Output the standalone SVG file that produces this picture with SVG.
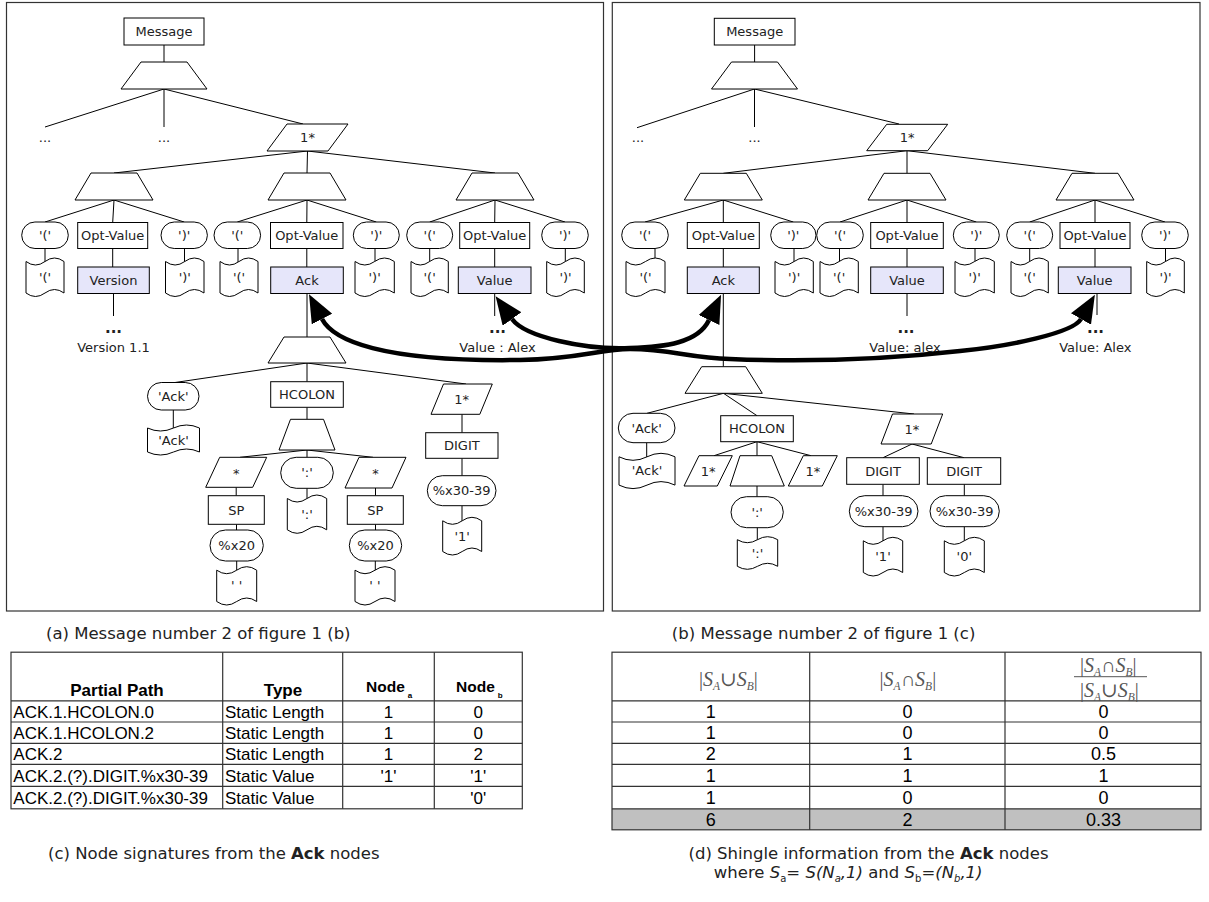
<svg xmlns="http://www.w3.org/2000/svg" width="1209" height="902" viewBox="0 0 1209 902">
<style>
.n{fill:#fff;stroke:#000;stroke-width:1}
.h{fill:#e6e6fa;stroke:#000;stroke-width:1}
.e{stroke:#000;stroke-width:1;fill:none}
.fr{fill:#fff;stroke:#333;stroke-width:1.2}
.t{font-family:"DejaVu Sans",sans-serif;font-size:13px;fill:#222;text-anchor:middle}
.dots{font-family:"DejaVu Sans",sans-serif;font-size:15px;font-weight:bold;fill:#222;text-anchor:middle}
.arc{fill:none;stroke:#000;stroke-width:4.5;marker-start:url(#ah);marker-end:url(#ah)}
.tb{font-family:"Liberation Sans",Arial,sans-serif;font-size:17px;fill:#000}
.tc{font-family:"Liberation Sans",Arial,sans-serif;font-size:17px;fill:#000;text-anchor:middle}
.tc2{font-family:"Liberation Sans",Arial,sans-serif;font-size:18px;fill:#000;text-anchor:middle}
.th{font-family:"Liberation Sans",Arial,sans-serif;font-size:17px;font-weight:bold;fill:#000;text-anchor:middle}
.th2{font-family:"Liberation Sans",Arial,sans-serif;font-size:15.5px;font-weight:bold;fill:#000}
.g{stroke:#333;stroke-width:1.2;fill:none}
.fm{font-family:"Liberation Serif","DejaVu Serif",serif;font-size:20px;fill:#555}
.sb{font-size:11.5px;font-style:italic}
.cap{font-family:"DejaVu Sans",sans-serif;font-size:16.5px;fill:#222}
</style>
<defs>
<marker id="ah" markerUnits="userSpaceOnUse" markerWidth="28" markerHeight="23" viewBox="0 0 28 23" refX="0" refY="11.5" orient="auto-start-reverse">
<path d="M0,0 L28,11.5 L0,23 Z" fill="#000"/>
</marker>
</defs>

<g id="panel-left"><rect class="fr" x="6.5" y="2.5" width="597" height="608.5"/></g>
<g id="panel-right"><rect class="fr" x="612.3" y="2.5" width="587.7" height="608.5"/></g>

<g id="connectors">
<path class="e" d="M164,45V62 M164,89L45,127 M164,89V127 M164,89L303,124
M307.5,151L114,173 M307.5,151L307,173 M307.5,151L495,173
M114,200L45,222 M114,200L112.7,222.5 M114,200L184.2,222
M307,200L237.3,222 M307,200L306.8,222.5 M307,200L376.3,222
M495,200L429.7,222 M495,200L494.7,222.5 M495,200L565,222
M45,248.5V262 M184.5,248.5V262 M238,248.5V262 M375,248.5V262 M429.7,248.5V262 M565.3,248.5V262
M112.7,248.5V267 M306.8,248.5V267 M494.7,248.5V267
M113.5,293.5V316 M494.7,293.5V316 M307,293.5V337
M307,363L175,382.5 M307,363V381.7 M307,363L466,384
M173.3,410V428 M307,407.3V419.3
M307,450L240,457.3 M307,450V457.3 M307,450L373,457.3
M236.2,487.3V495.7 M236.5,524.3V530 M236.7,561V570.5
M307,488.3V498.5
M375.5,488V495.7 M375.5,524.3V530 M375.3,561V570.5
M462,414.3V432.7 M462,458.3V475.7 M462,505.7V521"/>
<path class="e" d="M754.6,45V62 M754.5,89L637,127.7 M754.5,89V127 M754.5,89L899,124
M907,150.7L723.3,173.3 M907,150.7V173.3 M907,150.7L1095,173.3
M723.3,200L645,222 M723.3,200V222.5 M723.3,200L793.3,222
M907,200L840,222 M907,200V222.5 M907,200L976.3,222
M1095,200L1029.7,222 M1095,200V222.5 M1095,200L1165,222
M655,248.5V259 M794,248.5V262 M839.5,248.5V262 M975,248.5V262 M1029.7,248.5V262 M1165.5,248.5V262
M723.3,248.5V267 M907,248.5V267 M1095,248.5V267
M723.3,293.5V366.7 M907,293.5V316 M1097,293.5V315
M723.5,393.3L647,413.3 M723.5,393.3L757,415.7 M723.5,393.3L914,414
M646.7,442.7V457
M757,441.7L714,455.7 M757,441.7V455.7 M757,441.7L811,455.7
M757,486V496.7 M757.3,527.7V540
M912,444L883,457.7 M912,444L964,457.7
M883,484.3V495.7 M883,526.7V541
M964.3,484.3V495.7 M964.3,526.7V541"/>
</g>

<!-- LEFT TREE -->
<g id="L-message"><rect class="n" x="124" y="18" width="80" height="27"/><text class="t" x="164" y="36">Message</text></g>
<g id="L-seq"><polygon class="n" points="141,62 187,62 207,89 121,89"/></g>
<g id="L-dots1"><text class="t" x="45" y="142">...</text></g>
<g id="L-dots2"><text class="t" x="164" y="142">...</text></g>
<g id="L-rep"><polygon class="n" points="267,151 287,124 348,124 328,151"/><text class="t" x="307.5" y="142">1*</text></g>
<g id="L-seqA"><polygon class="n" points="91,173 137,173 153,200 75,200"/></g>
<g id="L-seqB"><polygon class="n" points="284,173 330,173 346,200 268,200"/></g>
<g id="L-seqC"><polygon class="n" points="472,173 518,173 534,200 456,200"/></g>

<g id="L-A-lp"><rect class="n" x="21.7" y="222" width="46.6" height="26.5" rx="13.25"/><text class="t" x="45" y="239.75">'('</text></g>
<g id="L-A-opt"><rect class="n" x="77.7" y="222.5" width="70" height="26"/><text class="t" x="112.7" y="240">Opt-Value</text></g>
<g id="L-A-rp"><rect class="n" x="161" y="222" width="46.4" height="26.5" rx="13.25"/><text class="t" x="184.2" y="239.75">')'</text></g>
<g id="L-B-lp"><rect class="n" x="214" y="222" width="46.6" height="26.5" rx="13.25"/><text class="t" x="237.3" y="239.75">'('</text></g>
<g id="L-B-opt"><rect class="n" x="270.5" y="222.5" width="72.5" height="26"/><text class="t" x="306.75" y="240">Opt-Value</text></g>
<g id="L-B-rp"><rect class="n" x="353.3" y="222" width="46" height="26.5" rx="13.25"/><text class="t" x="376.3" y="239.75">')'</text></g>
<g id="L-C-lp"><rect class="n" x="406.7" y="222" width="46" height="26.5" rx="13.25"/><text class="t" x="429.7" y="239.75">'('</text></g>
<g id="L-C-opt"><rect class="n" x="459.7" y="222.5" width="70" height="26"/><text class="t" x="494.7" y="240">Opt-Value</text></g>
<g id="L-C-rp"><rect class="n" x="541.7" y="222" width="46.6" height="26.5" rx="13.25"/><text class="t" x="565" y="239.75">')'</text></g>

<g id="L-A-lpv"><path class="n" d="M26,261.5 Q35.5,268.5 45,261.5 T64,261.5 L64,293 Q54.5,286 45,293 T26,293 Z"/><text class="t" x="45" y="281.5">'('</text></g>
<g id="L-A-rpv"><path class="n" d="M165.5,261.5 Q175.1,268.5 184.75,261.5 T204,261.5 L204,293 Q194.4,286 184.75,293 T165.5,293 Z"/><text class="t" x="184.75" y="281.5">')'</text></g>
<g id="L-B-lpv"><path class="n" d="M220,261.5 Q229.5,268.5 239,261.5 T258,261.5 L258,293 Q248.5,286 239,293 T220,293 Z"/><text class="t" x="239" y="281.5">'('</text></g>
<g id="L-B-rpv"><path class="n" d="M355,261.5 Q364.8,268.5 374.65,261.5 T394.3,261.5 L394.3,293 Q384.5,286 374.65,293 T355,293 Z"/><text class="t" x="374.65" y="281.5">')'</text></g>
<g id="L-C-lpv"><path class="n" d="M411,261.5 Q420.3,268.5 429.65,261.5 T448.3,261.5 L448.3,293 Q439,286 429.65,293 T411,293 Z"/><text class="t" x="429.65" y="281.5">'('</text></g>
<g id="L-C-rpv"><path class="n" d="M546.7,261.5 Q556.1,268.5 565.5,261.5 T584.3,261.5 L584.3,293 Q574.9,286 565.5,293 T546.7,293 Z"/><text class="t" x="565.5" y="281.5">')'</text></g>

<g id="L-version"><rect class="h" x="77.7" y="267" width="71.6" height="26.5"/><text class="t" x="113.5" y="284.75">Version</text></g>
<g id="L-ack"><rect class="h" x="270.7" y="267" width="72.6" height="26.5"/><text class="t" x="307" y="284.75">Ack</text></g>
<g id="L-value"><rect class="h" x="458.3" y="267" width="72.7" height="26.5"/><text class="t" x="494.65" y="284.75">Value</text></g>
<g id="L-version-val"><text class="dots" x="113.5" y="333">...</text><text class="t" x="113.5" y="352">Version 1.1</text></g>
<g id="L-value-val"><text class="dots" x="497.5" y="333">...</text><text class="t" x="497.5" y="352">Value : Alex</text></g>

<g id="L-ack-seq"><polygon class="n" points="284,337 330,337 346,363 268,363"/></g>
<g id="L-ack-lit"><rect class="n" x="147.5" y="382.5" width="51.5" height="27.5" rx="13.75"/><text class="t" x="173.25" y="400.75">'Ack'</text></g>
<g id="L-ack-litv"><path class="n" d="M147.5,428 Q160.5,434 173.5,428 T199.5,428 L199.5,452 Q186.5,446 173.5,452 T147.5,452 Z"/><text class="t" x="173.5" y="444.5">'Ack'</text></g>
<g id="L-hcolon"><rect class="n" x="270.7" y="381.7" width="72.6" height="25.6"/><text class="t" x="307" y="399">HCOLON</text></g>
<g id="L-hc-seq"><polygon class="n" points="290.5,419.3 323.5,419.3 335,450 279,450"/></g>
<g id="L-star1"><polygon class="n" points="205.7,487.3 219.7,457.3 266.7,457.3 252.7,487.3"/><text class="t" x="236.2" y="478">*</text></g>
<g id="L-colon"><rect class="n" x="280.7" y="457.3" width="52.6" height="31" rx="15.5"/><text class="t" x="307" y="477.3">':'</text></g>
<g id="L-star2"><polygon class="n" points="345,488 359,457.3 406,457.3 392,488"/><text class="t" x="375.5" y="478">*</text></g>
<g id="L-sp1"><rect class="n" x="208.3" y="495.7" width="56" height="28.6"/><text class="t" x="236.3" y="514.5">SP</text></g>
<g id="L-sp2"><rect class="n" x="347.3" y="495.7" width="56" height="28.6"/><text class="t" x="375.3" y="514.5">SP</text></g>
<g id="L-x20a"><rect class="n" x="210" y="530" width="53.3" height="31" rx="15.5"/><text class="t" x="236.65" y="550">%x20</text></g>
<g id="L-x20b"><rect class="n" x="349.3" y="530" width="52.4" height="31" rx="15.5"/><text class="t" x="375.5" y="550">%x20</text></g>
<g id="L-sp1v"><path class="n" d="M216.7,570.2 Q226.7,577.2 236.7,570.2 T256.7,570.2 L256.7,601.5 Q246.7,594.5 236.7,601.5 T216.7,601.5 Z"/><text class="t" x="236.7" y="590">' '</text></g>
<g id="L-colonv"><path class="n" d="M287.3,498.5 Q297.15,505.5 307,498.5 T326.7,498.5 L326.7,529.8 Q316.85,522.8 307,529.8 T287.3,529.8 Z"/><text class="t" x="307" y="518.5">':'</text></g>
<g id="L-sp2v"><path class="n" d="M355,570.2 Q365,577.2 375,570.2 T395,570.2 L395,601.5 Q385,594.5 375,601.5 T355,601.5 Z"/><text class="t" x="375" y="590">' '</text></g>
<g id="L-ack-rep"><polygon class="n" points="431,414.3 443.5,384 492.3,384 479.8,414.3"/><text class="t" x="461.65" y="404">1*</text></g>
<g id="L-digit"><rect class="n" x="425.7" y="432.7" width="72.3" height="25.6"/><text class="t" x="461.85" y="450">DIGIT</text></g>
<g id="L-x30"><rect class="n" x="427.3" y="475.7" width="68.7" height="30" rx="15"/><text class="t" x="461.65" y="495.2">%x30-39</text></g>
<g id="L-x30v"><path class="n" d="M442.7,520.8 Q452.45,527.8 462.2,520.8 T481.7,520.8 L481.7,551.5 Q471.95,544.5 462.2,551.5 T442.7,551.5 Z"/><text class="t" x="462.2" y="540.6">'1'</text></g>

<!-- RIGHT TREE -->
<g id="R-message"><rect class="n" x="714.3" y="18.3" width="80.7" height="26.7"/><text class="t" x="754.65" y="36">Message</text></g>
<g id="R-seq"><polygon class="n" points="731.5,62 777.5,62 797.5,89 711.5,89"/></g>
<g id="R-dots1"><text class="t" x="638" y="142">...</text></g>
<g id="R-dots2"><text class="t" x="754.5" y="142">...</text></g>
<g id="R-rep"><polygon class="n" points="866.7,150.7 886.7,124.3 947.7,124.3 927.7,150.7"/><text class="t" x="907.2" y="142">1*</text></g>
<g id="R-seqA"><polygon class="n" points="700.3,173.3 746.3,173.3 762.3,200 684.3,200"/></g>
<g id="R-seqB"><polygon class="n" points="884,173.3 930,173.3 946,200 868,200"/></g>
<g id="R-seqC"><polygon class="n" points="1072,173.3 1118,173.3 1134,200 1056,200"/></g>

<g id="R-A-lp"><rect class="n" x="621.7" y="222" width="46.6" height="26.5" rx="13.25"/><text class="t" x="645" y="239.75">'('</text></g>
<g id="R-A-opt"><rect class="n" x="687.3" y="222.5" width="72" height="26"/><text class="t" x="723.3" y="240">Opt-Value</text></g>
<g id="R-A-rp"><rect class="n" x="770.7" y="222" width="45.3" height="26.5" rx="13.25"/><text class="t" x="793.3" y="239.75">')'</text></g>
<g id="R-B-lp"><rect class="n" x="816.7" y="222" width="46.6" height="26.5" rx="13.25"/><text class="t" x="840" y="239.75">'('</text></g>
<g id="R-B-opt"><rect class="n" x="870.7" y="222.5" width="72.6" height="26"/><text class="t" x="907" y="240">Opt-Value</text></g>
<g id="R-B-rp"><rect class="n" x="953.3" y="222" width="46" height="26.5" rx="13.25"/><text class="t" x="976.3" y="239.75">')'</text></g>
<g id="R-C-lp"><rect class="n" x="1006.7" y="222" width="46" height="26.5" rx="13.25"/><text class="t" x="1029.7" y="239.75">'('</text></g>
<g id="R-C-opt"><rect class="n" x="1060" y="222.5" width="70" height="26"/><text class="t" x="1095" y="240">Opt-Value</text></g>
<g id="R-C-rp"><rect class="n" x="1141.7" y="222" width="46.6" height="26.5" rx="13.25"/><text class="t" x="1165" y="239.75">')'</text></g>

<g id="R-A-lpv"><path class="n" d="M626,261.5 Q635.75,268.5 645.5,261.5 T665,261.5 L665,293 Q655.25,286 645.5,293 T626,293 Z"/><text class="t" x="645.5" y="281.5">'('</text></g>
<g id="R-A-rpv"><path class="n" d="M775,261.5 Q784.6,268.5 794.15,261.5 T813.3,261.5 L813.3,293 Q803.7,286 794.15,293 T775,293 Z"/><text class="t" x="794.15" y="281.5">')'</text></g>
<g id="R-B-lpv"><path class="n" d="M820,261.5 Q829.6,268.5 839.15,261.5 T858.3,261.5 L858.3,293 Q848.7,286 839.15,293 T820,293 Z"/><text class="t" x="839.15" y="281.5">'('</text></g>
<g id="R-B-rpv"><path class="n" d="M955,261.5 Q964.8,268.5 974.65,261.5 T994.3,261.5 L994.3,293 Q984.5,286 974.65,293 T955,293 Z"/><text class="t" x="974.65" y="281.5">')'</text></g>
<g id="R-C-lpv"><path class="n" d="M1011,261.5 Q1020.3,268.5 1029.65,261.5 T1048.3,261.5 L1048.3,293 Q1039,286 1029.65,293 T1011,293 Z"/><text class="t" x="1029.65" y="281.5">'('</text></g>
<g id="R-C-rpv"><path class="n" d="M1146.7,261.5 Q1156.1,268.5 1165.5,261.5 T1184.3,261.5 L1184.3,293 Q1174.9,286 1165.5,293 T1146.7,293 Z"/><text class="t" x="1165.5" y="281.5">')'</text></g>

<g id="R-ack"><rect class="h" x="687.3" y="267" width="72" height="26.5"/><text class="t" x="723.3" y="284.75">Ack</text></g>
<g id="R-value1"><rect class="h" x="870.7" y="267" width="72.6" height="26.5"/><text class="t" x="907" y="284.75">Value</text></g>
<g id="R-value2"><rect class="h" x="1058.3" y="267" width="72.7" height="26.5"/><text class="t" x="1094.65" y="284.75">Value</text></g>
<g id="R-value1-val"><text class="dots" x="906" y="333">...</text><text class="t" x="905" y="352">Value: alex</text></g>
<g id="R-value2-val"><text class="dots" x="1095.5" y="333">...</text><text class="t" x="1095.3" y="352">Value: Alex</text></g>

<g id="R-ack-seq"><polygon class="n" points="701.7,366.7 745.7,366.7 762.3,393.3 685,393.3"/></g>
<g id="R-ack-lit"><rect class="n" x="618.3" y="413.3" width="56.7" height="29.4" rx="14.7"/><text class="t" x="646.65" y="432.5">'Ack'</text></g>
<g id="R-ack-litv"><path class="n" d="M619,456.8 Q633,463.8 647,456.8 T675,456.8 L675,485.1 Q661,478.1 647,485.1 T619,485.1 Z"/><text class="t" x="647" y="475.3">'Ack'</text></g>
<g id="R-hcolon"><rect class="n" x="720.7" y="415.7" width="72.6" height="26"/><text class="t" x="757" y="433.2">HCOLON</text></g>
<g id="R-one1"><polygon class="n" points="684,486 699,455.7 732.3,455.7 717.3,486"/><text class="t" x="708.15" y="475.5">1*</text></g>
<g id="R-hc-seq"><polygon class="n" points="740,455.7 771.7,455.7 784.3,486 730,486"/></g>
<g id="R-one2"><polygon class="n" points="788.3,486 803.3,455.7 837.3,455.7 822.3,486"/><text class="t" x="812.8" y="475.5">1*</text></g>
<g id="R-colon"><rect class="n" x="731" y="496.7" width="52.3" height="31" rx="15.5"/><text class="t" x="757.15" y="516.7">':'</text></g>
<g id="R-colonv"><path class="n" d="M737.3,539.7 Q747.4,545.7 757.5,539.7 T777.7,539.7 L777.7,566.3 Q767.6,560.3 757.5,566.3 T737.3,566.3 Z"/><text class="t" x="757.5" y="557.5">':'</text></g>
<g id="R-ack-rep"><polygon class="n" points="881,444 892.5,414 942.7,414 931.2,444"/><text class="t" x="911.85" y="433.5">1*</text></g>
<g id="R-digit1"><rect class="n" x="846.7" y="457.7" width="72.6" height="26.6"/><text class="t" x="883" y="475.5">DIGIT</text></g>
<g id="R-digit2"><rect class="n" x="927.3" y="457.7" width="73.4" height="26.6"/><text class="t" x="964" y="475.5">DIGIT</text></g>
<g id="R-x30a"><rect class="n" x="849.3" y="495.7" width="68.7" height="31" rx="15.5"/><text class="t" x="883.65" y="515.7">%x30-39</text></g>
<g id="R-x30b"><rect class="n" x="930" y="495.7" width="69.3" height="31" rx="15.5"/><text class="t" x="964.65" y="515.7">%x30-39</text></g>
<g id="R-x30av"><path class="n" d="M863.3,540.8 Q873.15,547.8 883,540.8 T902.7,540.8 L902.7,572.5 Q892.85,565.5 883,572.5 T863.3,572.5 Z"/><text class="t" x="883" y="561">'1'</text></g>
<g id="R-x30bv"><path class="n" d="M944.3,540.8 Q954.3,547.8 964.3,540.8 T984.3,540.8 L984.3,572.5 Q974.3,565.5 964.3,572.5 T944.3,572.5 Z"/><text class="t" x="964.3" y="561">'0'</text></g>

<g id="links">
<path class="arc" d="M512,319 C525,337 585,350 630,348 C665,347 698,343 709,320"/>
<path class="arc" d="M322,319 C333,340 380,362 520,360 C580,359 600,349 630,349 C670,349 690,358 730,359 C800,362 880,360 960,351 C1010,346 1073,333 1081,319"/>
</g>

<!-- captions -->
<text class="cap" x="46" y="639">(a) Message number 2 of figure 1 (b)</text>
<text class="cap" x="671.8" y="639">(b) Message number 2 of figure 1 (c)</text>

<!-- table c -->
<g id="table-c">
<rect class="g" x="11" y="652.2" width="511.3" height="156.6"/>
<path class="g" d="M222.7,652.2V808.8 M342.7,652.2V808.8 M434.3,652.2V808.8 M11,700.9H522.3 M11,722H522.3 M11,743.4H522.3 M11,764.4H522.3 M11,786.4H522.3"/>
<text class="th" x="117" y="696">Partial Path</text>
<text class="th" x="283" y="696">Type</text>
<text class="th2" x="366" y="691.5">Node<tspan font-size="8" dx="3" dy="6">a</tspan></text>
<text class="th2" x="456" y="691.5">Node<tspan font-size="8" dx="3" dy="6">b</tspan></text>
<text class="tb" x="13.3" y="717.6">ACK.1.HCOLON.0</text>
<text class="tb" x="225" y="717.6">Static Length</text>
<text class="tc" x="388.5" y="717.6">1</text><text class="tc" x="478.3" y="717.6">0</text>
<text class="tb" x="13.3" y="738.8">ACK.1.HCOLON.2</text>
<text class="tb" x="225" y="738.8">Static Length</text>
<text class="tc" x="388.5" y="738.8">1</text><text class="tc" x="478.3" y="738.8">0</text>
<text class="tb" x="13.3" y="760">ACK.2</text>
<text class="tb" x="225" y="760">Static Length</text>
<text class="tc" x="388.5" y="760">1</text><text class="tc" x="478.3" y="760">2</text>
<text class="tb" x="13.3" y="781.5">ACK.2.(?).DIGIT.%x30-39</text>
<text class="tb" x="225" y="781.5">Static Value</text>
<text class="tc" x="388.5" y="781.5">'1'</text><text class="tc" x="478.3" y="781.5">'1'</text>
<text class="tb" x="13.3" y="803.7">ACK.2.(?).DIGIT.%x30-39</text>
<text class="tb" x="225" y="803.7">Static Value</text>
<text class="tc" x="478.3" y="803.7">'0'</text>
</g>

<!-- table d -->
<g id="table-d">
<rect x="612" y="808.8" width="589" height="21" fill="#c0c0c0"/>
<rect class="g" x="612" y="652.2" width="589" height="177.6"/>
<path class="g" d="M809.7,652.2V829.8 M1005,652.2V829.8 M612,700.9H1201 M612,722H1201 M612,743.4H1201 M612,764.4H1201 M612,786.4H1201 M612,808.8H1201"/>
<text class="fm" x="699" y="686">|<tspan font-style="italic">S</tspan><tspan class="sb" dy="4">A</tspan><tspan dy="-4">∪</tspan><tspan font-style="italic">S</tspan><tspan class="sb" dy="4">B</tspan><tspan dy="-4">|</tspan></text>
<text class="fm" x="879.6" y="686">|<tspan font-style="italic">S</tspan><tspan class="sb" dy="4">A</tspan><tspan dy="-4">∩</tspan><tspan font-style="italic">S</tspan><tspan class="sb" dy="4">B</tspan><tspan dy="-4">|</tspan></text>
<text class="fm" x="1080" y="672">|<tspan font-style="italic">S</tspan><tspan class="sb" dy="4">A</tspan><tspan dy="-4">∩</tspan><tspan font-style="italic">S</tspan><tspan class="sb" dy="4">B</tspan><tspan dy="-4">|</tspan></text>
<line x1="1074" y1="676.7" x2="1147" y2="676.7" stroke="#555" stroke-width="1"/>
<text class="fm" x="1080" y="697">|<tspan font-style="italic">S</tspan><tspan class="sb" dy="4">A</tspan><tspan dy="-4">∪</tspan><tspan font-style="italic">S</tspan><tspan class="sb" dy="4">B</tspan><tspan dy="-4">|</tspan></text>
<text class="tc2" x="710.7" y="718">1</text><text class="tc2" x="907.4" y="718">0</text><text class="tc2" x="1103.5" y="718">0</text>
<text class="tc2" x="710.7" y="739.2">1</text><text class="tc2" x="907.4" y="739.2">0</text><text class="tc2" x="1103.5" y="739.2">0</text>
<text class="tc2" x="710.7" y="760.4">2</text><text class="tc2" x="907.4" y="760.4">1</text><text class="tc2" x="1103.5" y="760.4">0.5</text>
<text class="tc2" x="710.7" y="781.9">1</text><text class="tc2" x="907.4" y="781.9">1</text><text class="tc2" x="1103.5" y="781.9">1</text>
<text class="tc2" x="710.7" y="804.1">1</text><text class="tc2" x="907.4" y="804.1">0</text><text class="tc2" x="1103.5" y="804.1">0</text>
<text class="tc2" x="710.7" y="825.8">6</text><text class="tc2" x="907.4" y="825.8">2</text><text class="tc2" x="1103.5" y="825.8">0.33</text>
</g>

<text class="cap" x="48" y="859">(c) Node signatures from the <tspan font-weight="bold">Ack</tspan> nodes</text>
<text class="cap" x="688.5" y="859">(d) Shingle information from the <tspan font-weight="bold">Ack</tspan> nodes</text>
<text class="cap" x="713.8" y="877.5">where <tspan font-style="italic">S</tspan><tspan font-size="10" dy="4">a</tspan><tspan dy="-4">= </tspan><tspan font-style="italic">S(N</tspan><tspan font-size="10" font-style="italic" dy="4">a</tspan><tspan font-style="italic" dy="-4">,1)</tspan> and <tspan font-style="italic">S</tspan><tspan font-size="10" dy="4">b</tspan><tspan dy="-4">=</tspan><tspan font-style="italic">(N</tspan><tspan font-size="10" font-style="italic" dy="4">b</tspan><tspan font-style="italic" dy="-4">,1)</tspan></text>
</svg>
